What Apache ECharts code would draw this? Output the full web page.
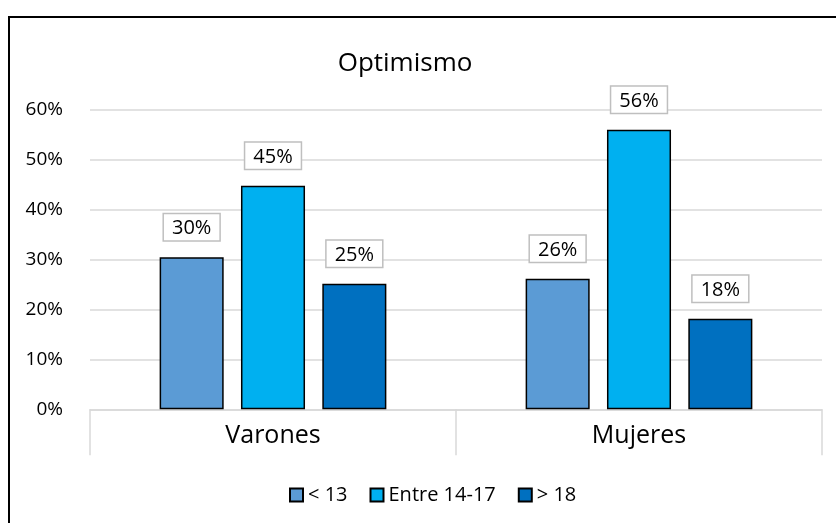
<!DOCTYPE html>
<html>
<head>
<meta charset="utf-8">
<script src="https://cdn.jsdelivr.net/npm/echarts@6/dist/echarts.min.js"></script>
<style>
  html, body { margin: 0; padding: 0; background: #fff; }
  #chart { width: 836px; height: 523px; }
</style>
</head>
<body>
<div id="chart"></div>
<script>
// datos
const categorias = ['Varones', 'Mujeres'];
const grupos = ['< 13', 'Entre 14-17', '> 18'];
const menores13 = [30.4, 26.1];
const entre14y17 = [44.7, 55.9];
const mayores18 = [25.1, 18.1];
const colores = ['#5B9BD5', '#00B0F0', '#0070C0'];

const fuente = 'Open Sans, Noto Sans, sans-serif';

function serie(nombre, datos, color) {
    return {
        name: nombre,
        type: 'bar',
        data: datos,
        barWidth: '17.5%',
        barGap: '27%',
        itemStyle: {
            color: color,
            borderColor: '#000',
            borderWidth: 1.5
        },
        label: {
            show: true,
            position: 'top',
            distance: 17,
            formatter: p => Math.round(p.value) + '%',
            fontFamily: fuente,
            fontSize: 20,
            color: '#000',
            backgroundColor: '#fff',
            borderColor: '#BFBFBF',
            borderWidth: 1.5,
            padding: [4, 8, 2, 8]
        }
    };
}

const myChart = echarts.init(document.getElementById('chart'));
const option = {
    backgroundColor: '#fff',
    animation: false,
    title: {
        text: 'Optimismo',
        left: 400,
        top: 46,
        textAlign: 'center',
        textStyle: {
            fontFamily: fuente,
            fontSize: 26,
            fontWeight: 'normal',
            color: '#000'
        }
    },
    graphic: [{
        type: 'rect',
        shape: { x: 9, y: 17, width: 900, height: 600 },
        style: { fill: 'none', stroke: '#000', lineWidth: 2 },
        silent: true
    }],
    legend: {
        data: grupos,
        left: 284,
        top: 480,
        itemWidth: 13,
        itemHeight: 13,
        itemGap: 22,
        icon: 'rect',
        textStyle: { fontFamily: fuente, fontSize: 20, color: '#000' }
    },
    grid: {
        left: 90,
        right: 14,
        top: 109.3,
        bottom: 113.7
    },
    xAxis: {
        type: 'category',
        data: categorias,
        axisLine: { lineStyle: { color: '#D9D9D9', width: 1.5 } },
        axisTick: { show: true, length: 46, lineStyle: { color: '#D9D9D9', width: 1.5 } },
        axisLabel: { margin: 14, fontFamily: fuente, fontSize: 25, color: '#000' }
    },
    yAxis: {
        type: 'value',
        min: 0,
        max: 60,
        interval: 10,
        axisLine: { show: false },
        axisTick: { show: false },
        splitLine: { lineStyle: { color: '#D9D9D9', width: 1.5 } },
        axisLabel: {
            margin: 27,
            formatter: '{value}%',
            fontFamily: fuente,
            fontSize: 19,
            color: '#000'
        }
    },
    series: [
        serie(grupos[0], menores13, colores[0]),
        serie(grupos[1], entre14y17, colores[1]),
        serie(grupos[2], mayores18, colores[2])
    ]
};
myChart.setOption(option);
</script>
</body>
</html>
